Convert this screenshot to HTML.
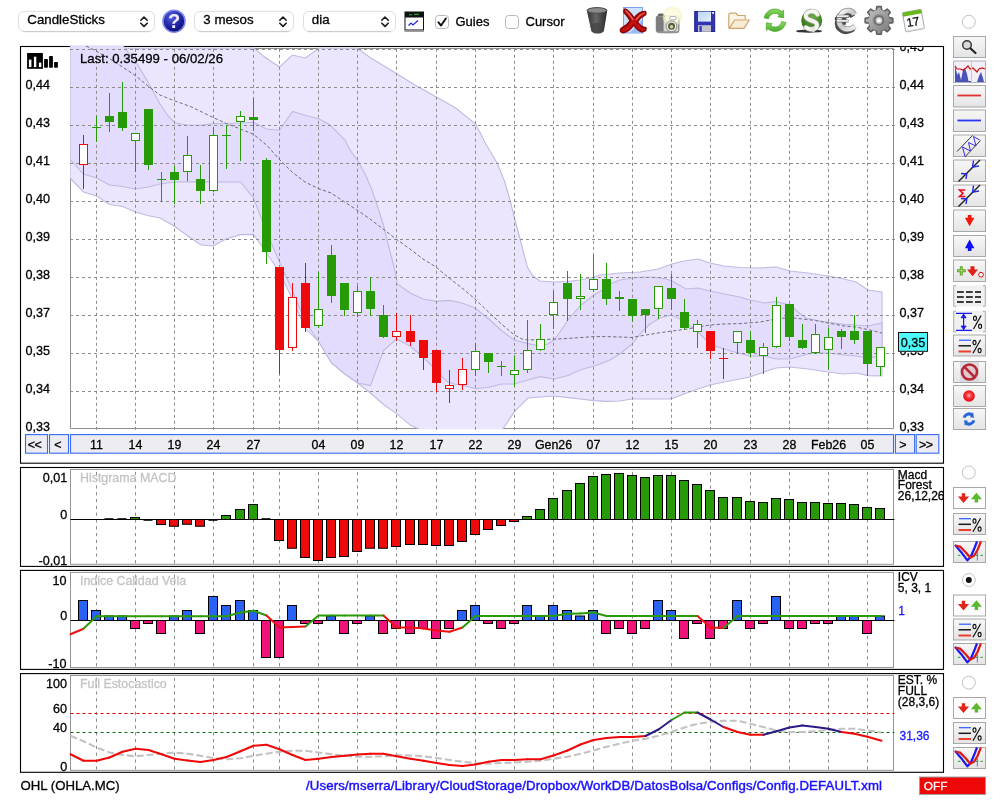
<!DOCTYPE html>
<html><head><meta charset="utf-8"><title>OHL chart</title>
<style>
html,body{margin:0;padding:0;background:#fff}
body{width:1000px;height:800px;position:relative;overflow:hidden;font-family:"Liberation Sans",sans-serif;font-size:13px;color:#000}
</style></head><body>
<svg width="1000" height="800" viewBox="0 0 1000 800" style="position:absolute;left:0;top:0">
<defs><clipPath id="cp"><rect x="70" y="45.5" width="824" height="383.8"/></clipPath><linearGradient id="bg" x1="0" y1="0" x2="0" y2="1"><stop offset="0" stop-color="#f7f7f7"/><stop offset="1" stop-color="#e4e4e4"/></linearGradient><radialGradient id="hg" cx="0.4" cy="0.3" r="0.8"><stop offset="0" stop-color="#5560e0"/><stop offset="0.6" stop-color="#1a1f9a"/><stop offset="1" stop-color="#0a0c60"/></radialGradient></defs>
<rect x="20.5" y="46.5" width="923" height="416.7" fill="#fff" stroke="#000" stroke-width="1.1"/>
<rect x="20.5" y="467.5" width="923" height="98.9" fill="#fff" stroke="#000" stroke-width="1.1"/>
<rect x="20.5" y="570.4" width="923" height="99" fill="#fff" stroke="#000" stroke-width="1.1"/>
<rect x="20.5" y="673.6" width="923" height="98.7" fill="#fff" stroke="#000" stroke-width="1.1"/>
<path d="M70.5 48.5V428.5H893.5V48.5Z" stroke="#8e8e8e" stroke-width="1" fill="none"/>
<g clip-path="url(#cp)">
<polygon points="70,48.2 253.75,48.2 266,58 279.5,67 292.5,55 305.5,58 318.75,48.2 357.5,48.2 370,57.5 382.5,65 396.75,73.75 415,85 436.25,97 455,107.5 475.75,124 485,142.5 497.5,163.75 505,182.5 510,200 515,220 520,238.75 527.5,267.5 533,276 540,281 554,282 567.5,281.5 580,280 592.5,277.5 600,275 620,273 640,272 658,269 672,264 684,261 698,259 710,263 724,266 740,267.5 760,268 776,267 790,271 808,273 828,276 844,279 856,282 868,290 882,292 882,376 868,375.6 856,373 844,374 828,372 808,369 790,367 776,368 764,372 750,377 740,379 724,382 710,385 698,389 684,394 671,399 650,399 632,399 620,401 606,401.4 594,400.6 580,399 568,397.6 554,396 540,397 528,398 514.5,411.6 501.5,431 495,440 436,440 423.5,431 410.5,425.3 396.5,413.6 383.5,404.5 370.5,393 357.5,383 344.5,373.75 331.5,363 318.5,341.25 305.5,328.8 292.5,299.5 279.5,272 266.5,253 253.5,234.4 240.5,234.6 226,239 213,246 201,245 188,236 174,226 160,218 148.5,215.8 135.5,212 122.5,206.5 109.5,204.5 96.5,196 83.5,192 70.5,178.5 70,178" fill="#ebe6fd" stroke="#bfbae2" stroke-width="1.1"/>
<polygon points="70,30 118,30 124,47 136,62 148,82 160,104 168,116 175,123 187.5,125 200.5,125.4 213.5,123.6 226.5,123.8 240.5,123 253.5,122.2 266.5,129 279.5,130.2 292.5,111.4 305.5,115.5 318.75,118.75 330,125 345,140 350,150 358,161 366,176 372,190 378,208 384,227 388,244 392,259 396,275 397,283.6 410,293 423,299 436,301.4 449,300.4 462,303 475,308 490,320 502,331 514.4,340 528,343.6 540,346 548,344 554,340 560,332 568,320 580,306 594,295 606,288 610,284 620,280 633,278 644,277 658,277.6 666,279 672,281 686,289 698,288 710,291 724,294 740,297 750,300 764,303 776,301.6 790,305 798,312 806,318 820,321 828,322.4 844,324.4 856,325 868,326 882,323 882,356 868,358 856,356 844,355 828,353 820,353 808,354 790,359 776,359 764,356 750,356 738,353 724,349 712,345 704,338 696,330 688,325 680,319 671,315 660,318 650,324 640,334 632,344 620,354 610,360 600,364 594,366 580,370 568,375.6 554,379 540,376.6 528,380 514.4,384 502,384 490,387 476,388.8 462,385 454,384 446,381 436,370 422,356 410,346 396.5,339 383.5,350.5 370.5,385.6 357.5,383 344.5,373.75 331.5,363 318.5,341.25 305.5,322 292.5,291 279.5,262 266.5,232 253.5,198 240.5,182 226,182 200,181.6 175,182 160,184 148.5,187 135.5,189 122.5,186.5 109.5,185 96.5,178 83.5,174 70.5,160 70,159.5" fill="#e4dcfc" stroke="#bfbae2" stroke-width="1.1"/>
</g>
<path d="M96.5 48.8V430 M135.5 48.8V430 M174.5 48.8V430 M213.5 48.8V430 M253.5 48.8V430 M279.5 48.8V430 M318.5 48.8V430 M357.5 48.8V430 M396.5 48.8V430 M436.5 48.8V430 M475.5 48.8V430 M514.5 48.8V430 M553.5 48.8V430 M593.5 48.8V430 M632.5 48.8V430 M671.5 48.8V430 M710.5 48.8V430 M750.5 48.8V430 M789.5 48.8V430 M828.5 48.8V430 M867.5 48.8V430 M70 49.5H895 M70 87.5H895 M70 125.5H895 M70 163.5H895 M70 201.5H895 M70 239.5H895 M70 277.5H895 M70 315.5H895 M70 353.5H895 M70 391.5H895" stroke="#8c8c8c" stroke-width="1" stroke-dasharray="3 3" fill="none"/>
<polyline points="86,46 96,51 110,59 124,68 136,76 148,86 160,95 175,101 191.2,106.8 213.4,117.6 226.6,123.6 240.4,129 253.6,134.4 266.8,145.2 279.5,159.6 292,172 305,182 318,188.4 331,193 344,201.6 357,210 370,219 383,229 396,239 410,249 423,259 436,267 449,278 462,288 475,299 490,313.5 502,324.5 514.4,335 522,339 528,340 540,339.6 554,339.2 568,338.4 580,337.6 594,336.6 606,336.6 620,337 632,337.5 640,336 658,333 672,331 688,329 697.5,327 710,325 724,324 740,323.6 760,322 776,319 790,317.5 802.5,319 815.5,320.5 828,323 844,326 856,327 868,329.6 882,333" fill="none" stroke="#62626a" stroke-width="0.9" stroke-dasharray="3.3 2.2" clip-path="url(#cp)"/>
<path d="M83.5 135V189" stroke="#ee0a0a" stroke-width="1"/>
<rect x="79.5" y="144.5" width="8" height="20" fill="#fff" stroke="#ee0a0a" stroke-width="1"/>
<path d="M96.5 116V142" stroke="#279a08" stroke-width="1"/>
<path d="M92.0 127.5H101.0" stroke="#279a08" stroke-width="1"/>
<path d="M109.5 93V132" stroke="#279a08" stroke-width="1"/>
<rect x="105.0" y="116" width="9" height="6" fill="#279a08"/>
<path d="M122.5 82V131" stroke="#279a08" stroke-width="1"/>
<rect x="118.0" y="112" width="9" height="16" fill="#279a08"/>
<path d="M135.5 133V172" stroke="#279a08" stroke-width="1"/>
<rect x="131.5" y="133.5" width="8" height="7" fill="#fff" stroke="#279a08" stroke-width="1"/>
<path d="M148.5 109V170" stroke="#279a08" stroke-width="1"/>
<rect x="144.0" y="109" width="9" height="56" fill="#279a08"/>
<path d="M161.5 172V202" stroke="#279a08" stroke-width="1"/>
<path d="M157.0 179.5H166.0" stroke="#279a08" stroke-width="1"/>
<path d="M174.5 166V204" stroke="#279a08" stroke-width="1"/>
<rect x="170.0" y="172" width="9" height="8" fill="#279a08"/>
<path d="M187.5 136V181" stroke="#279a08" stroke-width="1"/>
<rect x="183.5" y="155.5" width="8" height="16" fill="#fff" stroke="#279a08" stroke-width="1"/>
<path d="M200.5 165V204" stroke="#279a08" stroke-width="1"/>
<rect x="196.0" y="179" width="9" height="12" fill="#279a08"/>
<path d="M213.5 127V192" stroke="#279a08" stroke-width="1"/>
<rect x="209.5" y="135.5" width="8" height="55" fill="#fff" stroke="#279a08" stroke-width="1"/>
<path d="M226.5 125V169" stroke="#279a08" stroke-width="1"/>
<path d="M222.0 135.5H231.0" stroke="#279a08" stroke-width="1"/>
<path d="M240.5 111V161" stroke="#279a08" stroke-width="1"/>
<rect x="236.5" y="116.5" width="8" height="5" fill="#fff" stroke="#279a08" stroke-width="1"/>
<path d="M253.5 98V131" stroke="#279a08" stroke-width="1"/>
<rect x="249.0" y="117" width="9" height="3" fill="#279a08"/>
<path d="M266.5 158V264" stroke="#279a08" stroke-width="1"/>
<rect x="262.0" y="160" width="9" height="92" fill="#279a08"/>
<path d="M279.5 267V374" stroke="#ee0a0a" stroke-width="1"/>
<rect x="275.0" y="267" width="9" height="83" fill="#ee0a0a"/>
<path d="M292.5 283V351" stroke="#ee0a0a" stroke-width="1"/>
<rect x="288.5" y="297.5" width="8" height="50" fill="#fff" stroke="#ee0a0a" stroke-width="1"/>
<path d="M305.5 263V332" stroke="#ee0a0a" stroke-width="1"/>
<rect x="301.0" y="283" width="9" height="45" fill="#ee0a0a"/>
<path d="M318.5 272V328" stroke="#279a08" stroke-width="1"/>
<rect x="314.5" y="309.5" width="8" height="16" fill="#fff" stroke="#279a08" stroke-width="1"/>
<path d="M331.5 245V303" stroke="#279a08" stroke-width="1"/>
<rect x="327.0" y="255" width="9" height="41" fill="#279a08"/>
<path d="M344.5 283V316" stroke="#279a08" stroke-width="1"/>
<rect x="340.0" y="283" width="9" height="27" fill="#279a08"/>
<path d="M357.5 286V317" stroke="#279a08" stroke-width="1"/>
<rect x="353.5" y="291.5" width="8" height="21" fill="#fff" stroke="#279a08" stroke-width="1"/>
<path d="M370.5 277V316" stroke="#279a08" stroke-width="1"/>
<rect x="366.0" y="291" width="9" height="18" fill="#279a08"/>
<path d="M383.5 305V338" stroke="#279a08" stroke-width="1"/>
<rect x="379.0" y="315" width="9" height="22" fill="#279a08"/>
<path d="M396.5 313V341" stroke="#ee0a0a" stroke-width="1"/>
<rect x="392.5" y="331.5" width="8" height="5" fill="#fff" stroke="#ee0a0a" stroke-width="1"/>
<path d="M410.5 315V346" stroke="#ee0a0a" stroke-width="1"/>
<rect x="406.0" y="331" width="9" height="11" fill="#ee0a0a"/>
<path d="M423.5 340V370" stroke="#ee0a0a" stroke-width="1"/>
<rect x="419.0" y="340" width="9" height="18" fill="#ee0a0a"/>
<path d="M436.5 350V392" stroke="#ee0a0a" stroke-width="1"/>
<rect x="432.0" y="350" width="9" height="33" fill="#ee0a0a"/>
<path d="M449.5 370V403" stroke="#ee0a0a" stroke-width="1"/>
<rect x="445.5" y="385.5" width="8" height="3" fill="#fff" stroke="#ee0a0a" stroke-width="1"/>
<path d="M462.5 358V390" stroke="#ee0a0a" stroke-width="1"/>
<rect x="458.5" y="369.5" width="8" height="15" fill="#fff" stroke="#ee0a0a" stroke-width="1"/>
<path d="M475.5 343V376" stroke="#279a08" stroke-width="1"/>
<rect x="471.5" y="351.5" width="8" height="18" fill="#fff" stroke="#279a08" stroke-width="1"/>
<path d="M488.5 353V373" stroke="#279a08" stroke-width="1"/>
<rect x="484.0" y="353" width="9" height="9" fill="#279a08"/>
<path d="M501.5 361V376" stroke="#279a08" stroke-width="1"/>
<path d="M497.0 366.5H506.0" stroke="#279a08" stroke-width="1"/>
<path d="M514.5 356V387" stroke="#279a08" stroke-width="1"/>
<rect x="510.5" y="370.5" width="8" height="4" fill="#fff" stroke="#279a08" stroke-width="1"/>
<path d="M527.5 320V373" stroke="#279a08" stroke-width="1"/>
<rect x="523.5" y="350.5" width="8" height="19" fill="#fff" stroke="#279a08" stroke-width="1"/>
<path d="M540.5 324V351" stroke="#279a08" stroke-width="1"/>
<rect x="536.5" y="339.5" width="8" height="10" fill="#fff" stroke="#279a08" stroke-width="1"/>
<path d="M553.5 291V329" stroke="#279a08" stroke-width="1"/>
<rect x="549.5" y="302.5" width="8" height="12" fill="#fff" stroke="#279a08" stroke-width="1"/>
<path d="M567.5 271V321" stroke="#279a08" stroke-width="1"/>
<rect x="563.0" y="283" width="9" height="16" fill="#279a08"/>
<path d="M580.5 274V310" stroke="#279a08" stroke-width="1"/>
<rect x="576.5" y="296.5" width="8" height="2" fill="#fff" stroke="#279a08" stroke-width="1"/>
<path d="M593.5 255V292" stroke="#279a08" stroke-width="1"/>
<rect x="589.5" y="279.5" width="8" height="10" fill="#fff" stroke="#279a08" stroke-width="1"/>
<path d="M606.5 263V305" stroke="#279a08" stroke-width="1"/>
<rect x="602.0" y="279" width="9" height="20" fill="#279a08"/>
<path d="M619.5 291V311" stroke="#279a08" stroke-width="1"/>
<rect x="615.0" y="297" width="9" height="2" fill="#279a08"/>
<path d="M632.5 299V322" stroke="#279a08" stroke-width="1"/>
<rect x="628.0" y="299" width="9" height="17" fill="#279a08"/>
<path d="M645.5 309V333" stroke="#279a08" stroke-width="1"/>
<rect x="641.0" y="309" width="9" height="6" fill="#279a08"/>
<path d="M658.5 286V319" stroke="#279a08" stroke-width="1"/>
<rect x="654.5" y="286.5" width="8" height="22" fill="#fff" stroke="#279a08" stroke-width="1"/>
<path d="M671.5 274V310" stroke="#279a08" stroke-width="1"/>
<rect x="667.0" y="288" width="9" height="11" fill="#279a08"/>
<path d="M684.5 299V330" stroke="#279a08" stroke-width="1"/>
<rect x="680.0" y="312" width="9" height="16" fill="#279a08"/>
<path d="M697.5 320V348" stroke="#279a08" stroke-width="1"/>
<rect x="693.5" y="324.5" width="8" height="7" fill="#fff" stroke="#279a08" stroke-width="1"/>
<path d="M710.5 331V359" stroke="#ee0a0a" stroke-width="1"/>
<rect x="706.0" y="331" width="9" height="20" fill="#ee0a0a"/>
<path d="M723.5 348V379" stroke="#ee0a0a" stroke-width="1"/>
<path d="M719.0 358.5H728.0" stroke="#ee0a0a" stroke-width="1"/>
<path d="M737.5 331V354" stroke="#279a08" stroke-width="1"/>
<rect x="733.5" y="331.5" width="8" height="11" fill="#fff" stroke="#279a08" stroke-width="1"/>
<path d="M750.5 331V357" stroke="#279a08" stroke-width="1"/>
<rect x="746.0" y="340" width="9" height="13" fill="#279a08"/>
<path d="M763.5 343V374" stroke="#279a08" stroke-width="1"/>
<rect x="759.5" y="347.5" width="8" height="8" fill="#fff" stroke="#279a08" stroke-width="1"/>
<path d="M776.5 297V348" stroke="#279a08" stroke-width="1"/>
<rect x="772.5" y="305.5" width="8" height="41" fill="#fff" stroke="#279a08" stroke-width="1"/>
<path d="M789.5 304V341" stroke="#279a08" stroke-width="1"/>
<rect x="785.0" y="304" width="9" height="33" fill="#279a08"/>
<path d="M802.5 324V349" stroke="#279a08" stroke-width="1"/>
<rect x="798.0" y="340" width="9" height="8" fill="#279a08"/>
<path d="M815.5 324V354" stroke="#279a08" stroke-width="1"/>
<rect x="811.5" y="334.5" width="8" height="18" fill="#fff" stroke="#279a08" stroke-width="1"/>
<path d="M828.5 328V370" stroke="#279a08" stroke-width="1"/>
<rect x="824.5" y="337.5" width="8" height="12" fill="#fff" stroke="#279a08" stroke-width="1"/>
<path d="M841.5 329V349" stroke="#279a08" stroke-width="1"/>
<rect x="837.0" y="331" width="9" height="6" fill="#279a08"/>
<path d="M854.5 315V344" stroke="#279a08" stroke-width="1"/>
<rect x="850.0" y="331" width="9" height="9" fill="#279a08"/>
<path d="M867.5 331V376" stroke="#279a08" stroke-width="1"/>
<rect x="863.0" y="331" width="9" height="33" fill="#279a08"/>
<path d="M880.5 347V376" stroke="#279a08" stroke-width="1"/>
<rect x="876.5" y="347.5" width="8" height="19" fill="#fff" stroke="#279a08" stroke-width="1"/>
<rect x="898.5" y="332.5" width="29" height="18.8" fill="#4cfcfc" stroke="#1a0a0a" stroke-width="1"/>
<rect x="25.5" y="434.6" width="22" height="18.6" fill="#ececf2" stroke="#3a6af4" stroke-width="1.1"/>
<rect x="49.5" y="434.6" width="19" height="18.6" fill="#ececf2" stroke="#3a6af4" stroke-width="1.1"/>
<rect x="70.5" y="434.6" width="823" height="18.6" fill="#ececf2" stroke="#3a6af4" stroke-width="1.1"/>
<rect x="895.4" y="434.6" width="19.2" height="18.6" fill="#ececf2" stroke="#3a6af4" stroke-width="1.1"/>
<rect x="916.2" y="434.6" width="22.6" height="18.6" fill="#ececf2" stroke="#3a6af4" stroke-width="1.1"/>
<path d="M96.5 471.8V564.3 M135.5 471.8V564.3 M174.5 471.8V564.3 M213.5 471.8V564.3 M253.5 471.8V564.3 M279.5 471.8V564.3 M318.5 471.8V564.3 M357.5 471.8V564.3 M396.5 471.8V564.3 M436.5 471.8V564.3 M475.5 471.8V564.3 M514.5 471.8V564.3 M553.5 471.8V564.3 M593.5 471.8V564.3 M632.5 471.8V564.3 M671.5 471.8V564.3 M710.5 471.8V564.3 M750.5 471.8V564.3 M789.5 471.8V564.3 M828.5 471.8V564.3 M867.5 471.8V564.3" stroke="#8c8c8c" stroke-width="1" stroke-dasharray="3.2 3.6" fill="none"/>
<rect x="70.5" y="469.5" width="823" height="94.8" fill="none" stroke="#959595" stroke-width="1"/>
<path d="M96.5 574.6999999999999V667.5 M135.5 574.6999999999999V667.5 M174.5 574.6999999999999V667.5 M213.5 574.6999999999999V667.5 M253.5 574.6999999999999V667.5 M279.5 574.6999999999999V667.5 M318.5 574.6999999999999V667.5 M357.5 574.6999999999999V667.5 M396.5 574.6999999999999V667.5 M436.5 574.6999999999999V667.5 M475.5 574.6999999999999V667.5 M514.5 574.6999999999999V667.5 M553.5 574.6999999999999V667.5 M593.5 574.6999999999999V667.5 M632.5 574.6999999999999V667.5 M671.5 574.6999999999999V667.5 M710.5 574.6999999999999V667.5 M750.5 574.6999999999999V667.5 M789.5 574.6999999999999V667.5 M828.5 574.6999999999999V667.5 M867.5 574.6999999999999V667.5" stroke="#8c8c8c" stroke-width="1" stroke-dasharray="3.2 3.6" fill="none"/>
<rect x="70.5" y="572.4" width="823" height="95.1" fill="none" stroke="#959595" stroke-width="1"/>
<path d="M96.5 677.8V770.3 M135.5 677.8V770.3 M174.5 677.8V770.3 M213.5 677.8V770.3 M253.5 677.8V770.3 M279.5 677.8V770.3 M318.5 677.8V770.3 M357.5 677.8V770.3 M396.5 677.8V770.3 M436.5 677.8V770.3 M475.5 677.8V770.3 M514.5 677.8V770.3 M553.5 677.8V770.3 M593.5 677.8V770.3 M632.5 677.8V770.3 M671.5 677.8V770.3 M710.5 677.8V770.3 M750.5 677.8V770.3 M789.5 677.8V770.3 M828.5 677.8V770.3 M867.5 677.8V770.3" stroke="#8c8c8c" stroke-width="1" stroke-dasharray="3.2 3.6" fill="none"/>
<rect x="70.5" y="675.5" width="823" height="94.8" fill="none" stroke="#959595" stroke-width="1"/>
<path d="M70.5 519.5H894.5" stroke="#000" stroke-width="1"/>
<path d="M104.5 519.0H113.5" stroke="#000" stroke-width="1.6"/>
<path d="M117.5 519.0H126.5" stroke="#000" stroke-width="1.6"/>
<rect x="130.5" y="517.5" width="9" height="2" fill="#279a08" stroke="#000" stroke-width="1"/>
<path d="M143.5 520.0H152.5" stroke="#000" stroke-width="1.6"/>
<rect x="156.5" y="519.5" width="9" height="5" fill="#ee0a0a" stroke="#000" stroke-width="1"/>
<rect x="169.5" y="519.5" width="9" height="6.75" fill="#ee0a0a" stroke="#000" stroke-width="1"/>
<rect x="182.5" y="519.5" width="9" height="4.75" fill="#ee0a0a" stroke="#000" stroke-width="1"/>
<rect x="195.5" y="519.5" width="9" height="6.75" fill="#ee0a0a" stroke="#000" stroke-width="1"/>
<path d="M208.5 520.0H217.5" stroke="#000" stroke-width="1.6"/>
<rect x="221.5" y="515.5" width="9" height="4" fill="#279a08" stroke="#000" stroke-width="1"/>
<rect x="235.5" y="509.5" width="9" height="10" fill="#279a08" stroke="#000" stroke-width="1"/>
<rect x="248.5" y="504.5" width="9" height="15" fill="#279a08" stroke="#000" stroke-width="1"/>
<path d="M261.5 519.0H270.5" stroke="#000" stroke-width="1.6"/>
<rect x="274.5" y="519.5" width="9" height="21" fill="#ee0a0a" stroke="#000" stroke-width="1"/>
<rect x="287.5" y="519.5" width="9" height="28.75" fill="#ee0a0a" stroke="#000" stroke-width="1"/>
<rect x="300.5" y="519.5" width="9" height="38" fill="#ee0a0a" stroke="#000" stroke-width="1"/>
<rect x="313.5" y="519.5" width="9" height="41" fill="#ee0a0a" stroke="#000" stroke-width="1"/>
<rect x="326.5" y="519.5" width="9" height="38" fill="#ee0a0a" stroke="#000" stroke-width="1"/>
<rect x="339.5" y="519.5" width="9" height="37" fill="#ee0a0a" stroke="#000" stroke-width="1"/>
<rect x="352.5" y="519.5" width="9" height="32" fill="#ee0a0a" stroke="#000" stroke-width="1"/>
<rect x="365.5" y="519.5" width="9" height="28.75" fill="#ee0a0a" stroke="#000" stroke-width="1"/>
<rect x="378.5" y="519.5" width="9" height="28.75" fill="#ee0a0a" stroke="#000" stroke-width="1"/>
<rect x="391.5" y="519.5" width="9" height="27" fill="#ee0a0a" stroke="#000" stroke-width="1"/>
<rect x="405.5" y="519.5" width="9" height="25" fill="#ee0a0a" stroke="#000" stroke-width="1"/>
<rect x="418.5" y="519.5" width="9" height="25" fill="#ee0a0a" stroke="#000" stroke-width="1"/>
<rect x="431.5" y="519.5" width="9" height="26" fill="#ee0a0a" stroke="#000" stroke-width="1"/>
<rect x="444.5" y="519.5" width="9" height="26" fill="#ee0a0a" stroke="#000" stroke-width="1"/>
<rect x="457.5" y="519.5" width="9" height="22" fill="#ee0a0a" stroke="#000" stroke-width="1"/>
<rect x="470.5" y="519.5" width="9" height="15" fill="#ee0a0a" stroke="#000" stroke-width="1"/>
<rect x="483.5" y="519.5" width="9" height="10" fill="#ee0a0a" stroke="#000" stroke-width="1"/>
<rect x="496.5" y="519.5" width="9" height="6" fill="#ee0a0a" stroke="#000" stroke-width="1"/>
<rect x="509.5" y="519.5" width="9" height="2" fill="#ee0a0a" stroke="#000" stroke-width="1"/>
<rect x="522.5" y="516.5" width="9" height="3" fill="#279a08" stroke="#000" stroke-width="1"/>
<rect x="535.5" y="509.5" width="9" height="10" fill="#279a08" stroke="#000" stroke-width="1"/>
<rect x="548.5" y="498.5" width="9" height="21" fill="#279a08" stroke="#000" stroke-width="1"/>
<rect x="562.5" y="490.5" width="9" height="29" fill="#279a08" stroke="#000" stroke-width="1"/>
<rect x="575.5" y="483.5" width="9" height="36" fill="#279a08" stroke="#000" stroke-width="1"/>
<rect x="588.5" y="476.5" width="9" height="43" fill="#279a08" stroke="#000" stroke-width="1"/>
<rect x="601.5" y="474.5" width="9" height="45" fill="#279a08" stroke="#000" stroke-width="1"/>
<rect x="614.5" y="473.5" width="9" height="46" fill="#279a08" stroke="#000" stroke-width="1"/>
<rect x="627.5" y="475.5" width="9" height="44" fill="#279a08" stroke="#000" stroke-width="1"/>
<rect x="640.5" y="477.5" width="9" height="42" fill="#279a08" stroke="#000" stroke-width="1"/>
<rect x="653.5" y="475.5" width="9" height="44" fill="#279a08" stroke="#000" stroke-width="1"/>
<rect x="666.5" y="475.5" width="9" height="44" fill="#279a08" stroke="#000" stroke-width="1"/>
<rect x="679.5" y="480.5" width="9" height="39" fill="#279a08" stroke="#000" stroke-width="1"/>
<rect x="692.5" y="484.5" width="9" height="35" fill="#279a08" stroke="#000" stroke-width="1"/>
<rect x="705.5" y="490.5" width="9" height="29" fill="#279a08" stroke="#000" stroke-width="1"/>
<rect x="718.5" y="497.5" width="9" height="22" fill="#279a08" stroke="#000" stroke-width="1"/>
<rect x="732.5" y="497.5" width="9" height="22" fill="#279a08" stroke="#000" stroke-width="1"/>
<rect x="745.5" y="501.5" width="9" height="18" fill="#279a08" stroke="#000" stroke-width="1"/>
<rect x="758.5" y="502.5" width="9" height="17" fill="#279a08" stroke="#000" stroke-width="1"/>
<rect x="771.5" y="498.5" width="9" height="21" fill="#279a08" stroke="#000" stroke-width="1"/>
<rect x="784.5" y="499.5" width="9" height="20" fill="#279a08" stroke="#000" stroke-width="1"/>
<rect x="797.5" y="502.5" width="9" height="17" fill="#279a08" stroke="#000" stroke-width="1"/>
<rect x="810.5" y="502.5" width="9" height="17" fill="#279a08" stroke="#000" stroke-width="1"/>
<rect x="823.5" y="503.5" width="9" height="16" fill="#279a08" stroke="#000" stroke-width="1"/>
<rect x="836.5" y="503.5" width="9" height="16" fill="#279a08" stroke="#000" stroke-width="1"/>
<rect x="849.5" y="504.5" width="9" height="15" fill="#279a08" stroke="#000" stroke-width="1"/>
<rect x="862.5" y="507.5" width="9" height="12" fill="#279a08" stroke="#000" stroke-width="1"/>
<rect x="875.5" y="508.5" width="9" height="11" fill="#279a08" stroke="#000" stroke-width="1"/>
<path d="M70.5 620.5H894.5" stroke="#000" stroke-width="1"/>
<rect x="78.5" y="600.5" width="9" height="20" fill="#2962f5" stroke="#000" stroke-width="1"/>
<rect x="91.5" y="610.5" width="9" height="10" fill="#2962f5" stroke="#000" stroke-width="1"/>
<rect x="104.5" y="616" width="9" height="4.5" fill="#2962f5" stroke="#000" stroke-width="1"/>
<rect x="117.5" y="616" width="9" height="4.5" fill="#2962f5" stroke="#000" stroke-width="1"/>
<rect x="130.5" y="620.5" width="9" height="8" fill="#f0147a" stroke="#000" stroke-width="1"/>
<rect x="143.5" y="620.5" width="9" height="3" fill="#f0147a" stroke="#000" stroke-width="1"/>
<rect x="156.5" y="620.5" width="9" height="13" fill="#f0147a" stroke="#000" stroke-width="1"/>
<rect x="169.5" y="616" width="9" height="4.5" fill="#2962f5" stroke="#000" stroke-width="1"/>
<rect x="182.5" y="610.5" width="9" height="10" fill="#2962f5" stroke="#000" stroke-width="1"/>
<rect x="195.5" y="620.5" width="9" height="13" fill="#f0147a" stroke="#000" stroke-width="1"/>
<rect x="208.5" y="596.5" width="9" height="24" fill="#2962f5" stroke="#000" stroke-width="1"/>
<rect x="221.5" y="605.5" width="9" height="15" fill="#2962f5" stroke="#000" stroke-width="1"/>
<rect x="235.5" y="600.5" width="9" height="20" fill="#2962f5" stroke="#000" stroke-width="1"/>
<rect x="248.5" y="610.5" width="9" height="10" fill="#2962f5" stroke="#000" stroke-width="1"/>
<rect x="261.5" y="620.5" width="9" height="37" fill="#f0147a" stroke="#000" stroke-width="1"/>
<rect x="274.5" y="620.5" width="9" height="37" fill="#f0147a" stroke="#000" stroke-width="1"/>
<rect x="287.5" y="605.5" width="9" height="15" fill="#2962f5" stroke="#000" stroke-width="1"/>
<rect x="300.5" y="620.5" width="9" height="3" fill="#f0147a" stroke="#000" stroke-width="1"/>
<rect x="313.5" y="620.5" width="9" height="3" fill="#f0147a" stroke="#000" stroke-width="1"/>
<rect x="326.5" y="616" width="9" height="4.5" fill="#2962f5" stroke="#000" stroke-width="1"/>
<rect x="339.5" y="620.5" width="9" height="13" fill="#f0147a" stroke="#000" stroke-width="1"/>
<rect x="352.5" y="620.5" width="9" height="3" fill="#f0147a" stroke="#000" stroke-width="1"/>
<rect x="365.5" y="616" width="9" height="4.5" fill="#2962f5" stroke="#000" stroke-width="1"/>
<rect x="378.5" y="620.5" width="9" height="13" fill="#f0147a" stroke="#000" stroke-width="1"/>
<rect x="391.5" y="620.5" width="9" height="8" fill="#f0147a" stroke="#000" stroke-width="1"/>
<rect x="405.5" y="620.5" width="9" height="13" fill="#f0147a" stroke="#000" stroke-width="1"/>
<rect x="418.5" y="620.5" width="9" height="8" fill="#f0147a" stroke="#000" stroke-width="1"/>
<rect x="431.5" y="620.5" width="9" height="18" fill="#f0147a" stroke="#000" stroke-width="1"/>
<rect x="444.5" y="620.5" width="9" height="8" fill="#f0147a" stroke="#000" stroke-width="1"/>
<rect x="457.5" y="610.5" width="9" height="10" fill="#2962f5" stroke="#000" stroke-width="1"/>
<rect x="470.5" y="605.5" width="9" height="15" fill="#2962f5" stroke="#000" stroke-width="1"/>
<rect x="483.5" y="620.5" width="9" height="3" fill="#f0147a" stroke="#000" stroke-width="1"/>
<rect x="496.5" y="620.5" width="9" height="8" fill="#f0147a" stroke="#000" stroke-width="1"/>
<rect x="509.5" y="620.5" width="9" height="3" fill="#f0147a" stroke="#000" stroke-width="1"/>
<rect x="522.5" y="605.5" width="9" height="15" fill="#2962f5" stroke="#000" stroke-width="1"/>
<rect x="535.5" y="616" width="9" height="4.5" fill="#2962f5" stroke="#000" stroke-width="1"/>
<rect x="548.5" y="605.5" width="9" height="15" fill="#2962f5" stroke="#000" stroke-width="1"/>
<rect x="562.5" y="610.5" width="9" height="10" fill="#2962f5" stroke="#000" stroke-width="1"/>
<rect x="575.5" y="616" width="9" height="4.5" fill="#2962f5" stroke="#000" stroke-width="1"/>
<rect x="588.5" y="610.5" width="9" height="10" fill="#2962f5" stroke="#000" stroke-width="1"/>
<rect x="601.5" y="620.5" width="9" height="13" fill="#f0147a" stroke="#000" stroke-width="1"/>
<rect x="614.5" y="620.5" width="9" height="8" fill="#f0147a" stroke="#000" stroke-width="1"/>
<rect x="627.5" y="620.5" width="9" height="13" fill="#f0147a" stroke="#000" stroke-width="1"/>
<rect x="640.5" y="620.5" width="9" height="8" fill="#f0147a" stroke="#000" stroke-width="1"/>
<rect x="653.5" y="600.5" width="9" height="20" fill="#2962f5" stroke="#000" stroke-width="1"/>
<rect x="666.5" y="610.5" width="9" height="10" fill="#2962f5" stroke="#000" stroke-width="1"/>
<rect x="679.5" y="620.5" width="9" height="18" fill="#f0147a" stroke="#000" stroke-width="1"/>
<rect x="692.5" y="620.5" width="9" height="3" fill="#f0147a" stroke="#000" stroke-width="1"/>
<rect x="705.5" y="620.5" width="9" height="18" fill="#f0147a" stroke="#000" stroke-width="1"/>
<rect x="718.5" y="620.5" width="9" height="8" fill="#f0147a" stroke="#000" stroke-width="1"/>
<rect x="732.5" y="600.5" width="9" height="20" fill="#2962f5" stroke="#000" stroke-width="1"/>
<rect x="745.5" y="620.5" width="9" height="8" fill="#f0147a" stroke="#000" stroke-width="1"/>
<rect x="758.5" y="620.5" width="9" height="3" fill="#f0147a" stroke="#000" stroke-width="1"/>
<rect x="771.5" y="596.5" width="9" height="24" fill="#2962f5" stroke="#000" stroke-width="1"/>
<rect x="784.5" y="620.5" width="9" height="8" fill="#f0147a" stroke="#000" stroke-width="1"/>
<rect x="797.5" y="620.5" width="9" height="8" fill="#f0147a" stroke="#000" stroke-width="1"/>
<rect x="810.5" y="620.5" width="9" height="3" fill="#f0147a" stroke="#000" stroke-width="1"/>
<rect x="823.5" y="620.5" width="9" height="3" fill="#f0147a" stroke="#000" stroke-width="1"/>
<rect x="836.5" y="616" width="9" height="4.5" fill="#2962f5" stroke="#000" stroke-width="1"/>
<rect x="849.5" y="616" width="9" height="4.5" fill="#2962f5" stroke="#000" stroke-width="1"/>
<rect x="862.5" y="620.5" width="9" height="13" fill="#f0147a" stroke="#000" stroke-width="1"/>
<rect x="875.5" y="616" width="9" height="4.5" fill="#2962f5" stroke="#000" stroke-width="1"/>
<path d="M70.5 634.25L83.5 628.75" stroke="#f01010" stroke-width="2" stroke-linecap="round" fill="none"/>
<path d="M83.5 628.75L96.5 616.25" stroke="#2a9a0a" stroke-width="2" stroke-linecap="round" fill="none"/>
<path d="M96.5 616.25L109.5 616.25" stroke="#2a9a0a" stroke-width="2" stroke-linecap="round" fill="none"/>
<path d="M109.5 616.25L122.5 616.25" stroke="#2a9a0a" stroke-width="2" stroke-linecap="round" fill="none"/>
<path d="M122.5 616.25L135.5 616.25" stroke="#2a9a0a" stroke-width="2" stroke-linecap="round" fill="none"/>
<path d="M135.5 616.25L148.5 616.25" stroke="#2a9a0a" stroke-width="2" stroke-linecap="round" fill="none"/>
<path d="M148.5 616.25L161.5 616.25" stroke="#2a9a0a" stroke-width="2" stroke-linecap="round" fill="none"/>
<path d="M161.5 616.25L174.5 616.25" stroke="#2a9a0a" stroke-width="2" stroke-linecap="round" fill="none"/>
<path d="M174.5 616.25L187.5 616.25" stroke="#2a9a0a" stroke-width="2" stroke-linecap="round" fill="none"/>
<path d="M187.5 616.25L200.5 616.25" stroke="#2a9a0a" stroke-width="2" stroke-linecap="round" fill="none"/>
<path d="M200.5 616.25L213.5 616.25" stroke="#2a9a0a" stroke-width="2" stroke-linecap="round" fill="none"/>
<path d="M213.5 616.25L226.5 616.25" stroke="#2a9a0a" stroke-width="2" stroke-linecap="round" fill="none"/>
<path d="M226.5 616.25L240.5 612.5" stroke="#2a9a0a" stroke-width="2" stroke-linecap="round" fill="none"/>
<path d="M240.5 612.5L253.5 610.75" stroke="#2a9a0a" stroke-width="2" stroke-linecap="round" fill="none"/>
<path d="M253.5 610.75L266.5 615.5" stroke="#2a9a0a" stroke-width="2" stroke-linecap="round" fill="none"/>
<path d="M266.5 615.5L279.5 627.5" stroke="#f01010" stroke-width="2" stroke-linecap="round" fill="none"/>
<path d="M279.5 627.5L292.5 627" stroke="#f01010" stroke-width="2" stroke-linecap="round" fill="none"/>
<path d="M292.5 627L305.5 626.5" stroke="#f01010" stroke-width="2" stroke-linecap="round" fill="none"/>
<path d="M305.5 626.5L318.5 615.5" stroke="#2a9a0a" stroke-width="2" stroke-linecap="round" fill="none"/>
<path d="M318.5 615.5L331.5 615.5" stroke="#2a9a0a" stroke-width="2" stroke-linecap="round" fill="none"/>
<path d="M331.5 615.5L344.5 615.5" stroke="#2a9a0a" stroke-width="2" stroke-linecap="round" fill="none"/>
<path d="M344.5 615.5L357.5 615.5" stroke="#2a9a0a" stroke-width="2" stroke-linecap="round" fill="none"/>
<path d="M357.5 615.5L370.5 615.5" stroke="#2a9a0a" stroke-width="2" stroke-linecap="round" fill="none"/>
<path d="M370.5 615.5L383.5 615.5" stroke="#2a9a0a" stroke-width="2" stroke-linecap="round" fill="none"/>
<path d="M383.5 615.5L396.5 627.5" stroke="#f01010" stroke-width="2" stroke-linecap="round" fill="none"/>
<path d="M396.5 627.5L410.5 627.5" stroke="#f01010" stroke-width="2" stroke-linecap="round" fill="none"/>
<path d="M410.5 627.5L423.5 628.5" stroke="#f01010" stroke-width="2" stroke-linecap="round" fill="none"/>
<path d="M423.5 628.5L436.5 630.5" stroke="#f01010" stroke-width="2" stroke-linecap="round" fill="none"/>
<path d="M436.5 630.5L449.5 631.75" stroke="#f01010" stroke-width="2" stroke-linecap="round" fill="none"/>
<path d="M449.5 631.75L462.5 627.5" stroke="#f01010" stroke-width="2" stroke-linecap="round" fill="none"/>
<path d="M462.5 627.5L475.5 616" stroke="#2a9a0a" stroke-width="2" stroke-linecap="round" fill="none"/>
<path d="M475.5 616L488.5 616" stroke="#2a9a0a" stroke-width="2" stroke-linecap="round" fill="none"/>
<path d="M488.5 616L501.5 616" stroke="#2a9a0a" stroke-width="2" stroke-linecap="round" fill="none"/>
<path d="M501.5 616L514.5 616" stroke="#2a9a0a" stroke-width="2" stroke-linecap="round" fill="none"/>
<path d="M514.5 616L527.5 616" stroke="#2a9a0a" stroke-width="2" stroke-linecap="round" fill="none"/>
<path d="M527.5 616L540.5 616" stroke="#2a9a0a" stroke-width="2" stroke-linecap="round" fill="none"/>
<path d="M540.5 616L553.5 616" stroke="#2a9a0a" stroke-width="2" stroke-linecap="round" fill="none"/>
<path d="M553.5 616L567.5 613.75" stroke="#2a9a0a" stroke-width="2" stroke-linecap="round" fill="none"/>
<path d="M567.5 613.75L580.5 613.5" stroke="#2a9a0a" stroke-width="2" stroke-linecap="round" fill="none"/>
<path d="M580.5 613.5L593.5 612.5" stroke="#2a9a0a" stroke-width="2" stroke-linecap="round" fill="none"/>
<path d="M593.5 612.5L606.5 616" stroke="#2a9a0a" stroke-width="2" stroke-linecap="round" fill="none"/>
<path d="M606.5 616L619.5 616" stroke="#2a9a0a" stroke-width="2" stroke-linecap="round" fill="none"/>
<path d="M619.5 616L632.5 616" stroke="#2a9a0a" stroke-width="2" stroke-linecap="round" fill="none"/>
<path d="M632.5 616L645.5 616" stroke="#2a9a0a" stroke-width="2" stroke-linecap="round" fill="none"/>
<path d="M645.5 616L658.5 616" stroke="#2a9a0a" stroke-width="2" stroke-linecap="round" fill="none"/>
<path d="M658.5 616L671.5 616" stroke="#2a9a0a" stroke-width="2" stroke-linecap="round" fill="none"/>
<path d="M671.5 616L684.5 616" stroke="#2a9a0a" stroke-width="2" stroke-linecap="round" fill="none"/>
<path d="M684.5 616L697.5 616" stroke="#2a9a0a" stroke-width="2" stroke-linecap="round" fill="none"/>
<path d="M697.5 616L710.5 627.5" stroke="#f01010" stroke-width="2" stroke-linecap="round" fill="none"/>
<path d="M710.5 627.5L723.5 628" stroke="#f01010" stroke-width="2" stroke-linecap="round" fill="none"/>
<path d="M723.5 628L737.5 616" stroke="#2a9a0a" stroke-width="2" stroke-linecap="round" fill="none"/>
<path d="M737.5 616L750.5 616" stroke="#2a9a0a" stroke-width="2" stroke-linecap="round" fill="none"/>
<path d="M750.5 616L763.5 616" stroke="#2a9a0a" stroke-width="2" stroke-linecap="round" fill="none"/>
<path d="M763.5 616L776.5 616" stroke="#2a9a0a" stroke-width="2" stroke-linecap="round" fill="none"/>
<path d="M776.5 616L789.5 616" stroke="#2a9a0a" stroke-width="2" stroke-linecap="round" fill="none"/>
<path d="M789.5 616L802.5 616" stroke="#2a9a0a" stroke-width="2" stroke-linecap="round" fill="none"/>
<path d="M802.5 616L815.5 616" stroke="#2a9a0a" stroke-width="2" stroke-linecap="round" fill="none"/>
<path d="M815.5 616L828.5 616" stroke="#2a9a0a" stroke-width="2" stroke-linecap="round" fill="none"/>
<path d="M828.5 616L841.5 616" stroke="#2a9a0a" stroke-width="2" stroke-linecap="round" fill="none"/>
<path d="M841.5 616L854.5 616" stroke="#2a9a0a" stroke-width="2" stroke-linecap="round" fill="none"/>
<path d="M854.5 616L867.5 616" stroke="#2a9a0a" stroke-width="2" stroke-linecap="round" fill="none"/>
<path d="M867.5 616L880.5 616" stroke="#2a9a0a" stroke-width="2" stroke-linecap="round" fill="none"/>
<path d="M70.5 713.5H894.5" stroke="#e00000" stroke-width="1" stroke-dasharray="3 3"/>
<path d="M70.5 732.5H894.5" stroke="#0a6a0a" stroke-width="1" stroke-dasharray="3 3"/>
<polyline points="70.5,735.75 83.5,741.25 96.5,747.5 109.5,752.5 122.5,755 135.5,756.25 148.5,755 161.5,753.75 174.5,752.5 187.5,753.75 200.5,755.75 213.5,758 226.5,759.25 240.5,758.25 253.5,755.75 266.5,753.75 279.5,751.75 292.5,750.75 305.5,750.75 318.5,752.5 331.5,754.25 344.5,755.75 357.5,756.75 370.5,756.75 383.5,756.25 396.5,755 410.5,755.5 423.5,756.25 436.5,758 449.5,760 462.5,761.75 475.5,763 488.5,763.75 501.5,763 514.5,762.5 527.5,761.75 540.5,760.75 553.5,758.75 567.5,756.75 580.5,753.75 593.5,750.5 606.5,746.75 619.5,743.75 632.5,740.75 645.5,738.75 658.5,735.75 671.5,732 684.5,727.5 697.5,723.75 710.5,722 723.5,720.75 737.5,720.75 750.5,723.75 763.5,727 776.5,730.5 789.5,732 802.5,732 815.5,731.25 828.5,730 841.5,728.75 854.5,728.75 867.5,730.5 881.5,732.5" fill="none" stroke="#c2c2c2" stroke-width="2.1" stroke-dasharray="7 3"/>
<path d="M70.5 754.25L83.5 760.75" stroke="#f00808" stroke-width="2" stroke-linecap="round" fill="none"/>
<path d="M83.5 760.75L96.5 760.75" stroke="#f00808" stroke-width="2" stroke-linecap="round" fill="none"/>
<path d="M96.5 760.75L109.5 757.5" stroke="#f00808" stroke-width="2" stroke-linecap="round" fill="none"/>
<path d="M109.5 757.5L122.5 751.75" stroke="#f00808" stroke-width="2" stroke-linecap="round" fill="none"/>
<path d="M122.5 751.75L135.5 748.75" stroke="#f00808" stroke-width="2" stroke-linecap="round" fill="none"/>
<path d="M135.5 748.75L148.5 750" stroke="#f00808" stroke-width="2" stroke-linecap="round" fill="none"/>
<path d="M148.5 750L161.5 754.25" stroke="#f00808" stroke-width="2" stroke-linecap="round" fill="none"/>
<path d="M161.5 754.25L174.5 758.75" stroke="#f00808" stroke-width="2" stroke-linecap="round" fill="none"/>
<path d="M174.5 758.75L187.5 760.5" stroke="#f00808" stroke-width="2" stroke-linecap="round" fill="none"/>
<path d="M187.5 760.5L200.5 762" stroke="#f00808" stroke-width="2" stroke-linecap="round" fill="none"/>
<path d="M200.5 762L213.5 760" stroke="#f00808" stroke-width="2" stroke-linecap="round" fill="none"/>
<path d="M213.5 760L226.5 757" stroke="#f00808" stroke-width="2" stroke-linecap="round" fill="none"/>
<path d="M226.5 757L240.5 751.25" stroke="#f00808" stroke-width="2" stroke-linecap="round" fill="none"/>
<path d="M240.5 751.25L253.5 745.75" stroke="#f00808" stroke-width="2" stroke-linecap="round" fill="none"/>
<path d="M253.5 745.75L266.5 744.75" stroke="#f00808" stroke-width="2" stroke-linecap="round" fill="none"/>
<path d="M266.5 744.75L279.5 749.25" stroke="#f00808" stroke-width="2" stroke-linecap="round" fill="none"/>
<path d="M279.5 749.25L292.5 755" stroke="#f00808" stroke-width="2" stroke-linecap="round" fill="none"/>
<path d="M292.5 755L305.5 760" stroke="#f00808" stroke-width="2" stroke-linecap="round" fill="none"/>
<path d="M305.5 760L318.5 758.75" stroke="#f00808" stroke-width="2" stroke-linecap="round" fill="none"/>
<path d="M318.5 758.75L331.5 757" stroke="#f00808" stroke-width="2" stroke-linecap="round" fill="none"/>
<path d="M331.5 757L344.5 755.75" stroke="#f00808" stroke-width="2" stroke-linecap="round" fill="none"/>
<path d="M344.5 755.75L357.5 754.5" stroke="#f00808" stroke-width="2" stroke-linecap="round" fill="none"/>
<path d="M357.5 754.5L370.5 753.75" stroke="#f00808" stroke-width="2" stroke-linecap="round" fill="none"/>
<path d="M370.5 753.75L383.5 753.75" stroke="#f00808" stroke-width="2" stroke-linecap="round" fill="none"/>
<path d="M383.5 753.75L396.5 756.25" stroke="#f00808" stroke-width="2" stroke-linecap="round" fill="none"/>
<path d="M396.5 756.25L410.5 758.75" stroke="#f00808" stroke-width="2" stroke-linecap="round" fill="none"/>
<path d="M410.5 758.75L423.5 760.75" stroke="#f00808" stroke-width="2" stroke-linecap="round" fill="none"/>
<path d="M423.5 760.75L436.5 763" stroke="#f00808" stroke-width="2" stroke-linecap="round" fill="none"/>
<path d="M436.5 763L449.5 765" stroke="#f00808" stroke-width="2" stroke-linecap="round" fill="none"/>
<path d="M449.5 765L462.5 766" stroke="#f00808" stroke-width="2" stroke-linecap="round" fill="none"/>
<path d="M462.5 766L475.5 764.5" stroke="#f00808" stroke-width="2" stroke-linecap="round" fill="none"/>
<path d="M475.5 764.5L488.5 761.75" stroke="#f00808" stroke-width="2" stroke-linecap="round" fill="none"/>
<path d="M488.5 761.75L501.5 760" stroke="#f00808" stroke-width="2" stroke-linecap="round" fill="none"/>
<path d="M501.5 760L514.5 760" stroke="#f00808" stroke-width="2" stroke-linecap="round" fill="none"/>
<path d="M514.5 760L527.5 759.25" stroke="#f00808" stroke-width="2" stroke-linecap="round" fill="none"/>
<path d="M527.5 759.25L540.5 759.25" stroke="#f00808" stroke-width="2" stroke-linecap="round" fill="none"/>
<path d="M540.5 759.25L553.5 755.5" stroke="#f00808" stroke-width="2" stroke-linecap="round" fill="none"/>
<path d="M553.5 755.5L567.5 750.5" stroke="#f00808" stroke-width="2" stroke-linecap="round" fill="none"/>
<path d="M567.5 750.5L580.5 744.5" stroke="#f00808" stroke-width="2" stroke-linecap="round" fill="none"/>
<path d="M580.5 744.5L593.5 740" stroke="#f00808" stroke-width="2" stroke-linecap="round" fill="none"/>
<path d="M593.5 740L606.5 738" stroke="#f00808" stroke-width="2" stroke-linecap="round" fill="none"/>
<path d="M606.5 738L619.5 737" stroke="#f00808" stroke-width="2" stroke-linecap="round" fill="none"/>
<path d="M619.5 737L632.5 737" stroke="#f00808" stroke-width="2" stroke-linecap="round" fill="none"/>
<path d="M632.5 737L645.5 736" stroke="#f00808" stroke-width="2" stroke-linecap="round" fill="none"/>
<path d="M645.5 736L658.5 729.5" stroke="#2c1a86" stroke-width="2" stroke-linecap="round" fill="none"/>
<path d="M658.5 729.5L671.5 720" stroke="#2c1a86" stroke-width="2" stroke-linecap="round" fill="none"/>
<path d="M671.5 720L684.5 712.5" stroke="#2a9a0a" stroke-width="2" stroke-linecap="round" fill="none"/>
<path d="M684.5 712.5L697.5 712.5" stroke="#2a9a0a" stroke-width="2" stroke-linecap="round" fill="none"/>
<path d="M697.5 712.5L710.5 719.5" stroke="#2c1a86" stroke-width="2" stroke-linecap="round" fill="none"/>
<path d="M710.5 719.5L723.5 727" stroke="#2c1a86" stroke-width="2" stroke-linecap="round" fill="none"/>
<path d="M723.5 727L737.5 732" stroke="#f00808" stroke-width="2" stroke-linecap="round" fill="none"/>
<path d="M737.5 732L750.5 734.75" stroke="#f00808" stroke-width="2" stroke-linecap="round" fill="none"/>
<path d="M750.5 734.75L763.5 734.75" stroke="#f00808" stroke-width="2" stroke-linecap="round" fill="none"/>
<path d="M763.5 734.75L776.5 731.25" stroke="#2c1a86" stroke-width="2" stroke-linecap="round" fill="none"/>
<path d="M776.5 731.25L789.5 727.5" stroke="#2c1a86" stroke-width="2" stroke-linecap="round" fill="none"/>
<path d="M789.5 727.5L802.5 725.5" stroke="#2c1a86" stroke-width="2" stroke-linecap="round" fill="none"/>
<path d="M802.5 725.5L815.5 727" stroke="#2c1a86" stroke-width="2" stroke-linecap="round" fill="none"/>
<path d="M815.5 727L828.5 728.75" stroke="#2c1a86" stroke-width="2" stroke-linecap="round" fill="none"/>
<path d="M828.5 728.75L841.5 732" stroke="#2c1a86" stroke-width="2" stroke-linecap="round" fill="none"/>
<path d="M841.5 732L854.5 733.75" stroke="#f00808" stroke-width="2" stroke-linecap="round" fill="none"/>
<path d="M854.5 733.75L867.5 736.75" stroke="#f00808" stroke-width="2" stroke-linecap="round" fill="none"/>
<path d="M867.5 736.75L881.5 740.75" stroke="#f00808" stroke-width="2" stroke-linecap="round" fill="none"/>
<circle cx="968.8" cy="21.8" r="6.5" fill="#fff" stroke="#c2c2c2" stroke-width="1"/>
<rect x="953.5" y="36.5" width="32.0" height="21.0" fill="url(#bg)" stroke="#a8a8a8" stroke-width="1"/>
<circle cx="967" cy="45" r="4.3" fill="#d8d8d8" stroke="#333" stroke-width="1.4"/><path d="M970.3 48.3L975.5 53" stroke="#222" stroke-width="2.2" stroke-linecap="round"/>
<rect x="953.5" y="61" width="32" height="21.5" fill="#f4eef6" stroke="#b0b0c0" stroke-width="1"/>
<path d="M955 82V64L956 70L957.5 75L959 72L961 80L963 70L965 68L967 74L968.5 81L971 81L972 82Z" fill="#4a54b6"/><path d="M977 82L979 76L981 72L983 78L984 82Z" fill="#4a54b6"/><path d="M955 66L957 69L960 69L963 70L966 68L968 66L970 69L973 68L975 70L977 72L979 69L982 68L985 69" stroke="#d01010" stroke-width="1.2" fill="none"/><path d="M971.5 61V82" stroke="#c8c8d8" stroke-width="1"/>
<rect x="953.5" y="85.5" width="32.0" height="21.5" fill="url(#bg)" stroke="#a8a8a8" stroke-width="1"/>
<path d="M957.5 95.5H981" stroke="#e03030" stroke-width="1.8"/>
<rect x="953.5" y="110" width="32.0" height="21.5" fill="url(#bg)" stroke="#a8a8a8" stroke-width="1"/>
<path d="M957.5 120.5H981" stroke="#2a3af0" stroke-width="1.8"/>
<rect x="953.5" y="135" width="32.0" height="21.5" fill="url(#bg)" stroke="#a8a8a8" stroke-width="1"/>
<path d="M957 151.5L972.5 135.5M965 156.8L980.5 140.5" stroke="#333" stroke-width="1"/><path d="M965 156.5L962.5 147L970.5 151L968.5 142.5L976 146L973.5 136.5L979.7 140" stroke="#3a30e8" stroke-width="1" fill="none"/>
<rect x="953.5" y="160" width="32.0" height="21.5" fill="url(#bg)" stroke="#a8a8a8" stroke-width="1"/>
<path d="M958.5 181.5L980 160" stroke="#222" stroke-width="1.5"/><path d="M973.5 160.5L972.5 167.2L979 166M961 173.5L966.8 174L966 179" stroke="#2828e0" stroke-width="1.4" fill="none"/>
<rect x="953.5" y="185" width="32.0" height="21.5" fill="url(#bg)" stroke="#a8a8a8" stroke-width="1"/>
<path d="M958.5 206.5L980 185" stroke="#222" stroke-width="1.5"/><path d="M973.5 185.5L972.5 192.2L979 191M961 198.5L966.8 199L966 204" stroke="#2828e0" stroke-width="1.4" fill="none"/><path d="M965.3 190H959.5L963 193.3L959.5 196.5H965.3" stroke="#e81020" stroke-width="1.6" fill="none"/>
<rect x="953.5" y="210" width="32.0" height="21.5" fill="url(#bg)" stroke="#a8a8a8" stroke-width="1"/>
<path d="M967.8 215H971.5V217.7H974.4L969.6 226.2L964.9 217.7H967.8Z" fill="#f01808"/>
<rect x="953.5" y="235.5" width="32.0" height="21.0" fill="url(#bg)" stroke="#a8a8a8" stroke-width="1"/>
<path d="M967.8 251H971.5V248.2H974.4L969.6 239.5L964.9 248.2H967.8Z" fill="#1010f8"/>
<rect x="953.5" y="260" width="32.0" height="21.5" fill="url(#bg)" stroke="#a8a8a8" stroke-width="1"/>
<path d="M957 270.8H965.8M961.3 266.2V275.5" stroke="#62a828" stroke-width="3"/><path d="M958 270.8H964.8M961.3 267.2V274.5" stroke="#a8d080" stroke-width="1"/><path d="M970.5 266.2H974.5V269.5H978L972.5 276.3L967 269.5H970.5Z" fill="#e02018"/><circle cx="981" cy="274.7" r="2.4" fill="#fff" stroke="#e01010" stroke-width="1"/>
<rect x="954" y="285.5" width="31" height="21" fill="#f0f0f0"/><path d="M956 285.7H953.7V306.3H956M983 285.7H985.3V306.3H983" stroke="#a8a8a8" stroke-width="1" fill="none"/>
<path d="M957 292H981M957 297H981M957 302H981" stroke="#3c3c3c" stroke-width="2" stroke-dasharray="6.8 2.2"/>
<rect x="954" y="311" width="31" height="21" fill="#f0f0f0"/><path d="M956 311.2H953.7V332H956M983 311.2H985.3V332H983" stroke="#a8a8a8" stroke-width="1" fill="none"/>
<path d="M956 313.4H972M956 330.3H972M963.6 314V330" stroke="#1818f0" stroke-width="1.2"/><path d="M961 317.8L963.6 314.2L966.2 317.8ZM961 326L963.6 329.6L966.2 326Z" fill="#1818f0" stroke="#1818f0" stroke-width="0.8"/>
<path d="M981.0999999999999 315.5L973.5 329.0" stroke="#111" stroke-width="1.2"/><ellipse cx="975.0" cy="318.3" rx="1.5" ry="2.2" fill="none" stroke="#111" stroke-width="1.1"/><ellipse cx="980.0999999999999" cy="326.3" rx="1.5" ry="2.2" fill="none" stroke="#111" stroke-width="1.1"/>
<rect x="953.5" y="335" width="32.0" height="21" fill="url(#bg)" stroke="#a8a8a8" stroke-width="1"/>
<path d="M959 340.2H971" stroke="#2a5af8" stroke-width="1.2"/><path d="M958.5 345.8H971" stroke="#1a1a1a" stroke-width="1.5"/><path d="M958.5 351.5H971" stroke="#e8402a" stroke-width="2"/>
<path d="M980.5999999999999 339.8L973.0 353.3" stroke="#111" stroke-width="1.2"/><ellipse cx="974.5" cy="342.6" rx="1.5" ry="2.2" fill="none" stroke="#111" stroke-width="1.1"/><ellipse cx="979.5999999999999" cy="350.6" rx="1.5" ry="2.2" fill="none" stroke="#111" stroke-width="1.1"/>
<rect x="953.5" y="361.5" width="32.0" height="21.0" fill="url(#bg)" stroke="#a8a8a8" stroke-width="1"/>
<rect x="960" y="362" width="19" height="20" fill="#dadae2"/><circle cx="969.5" cy="372" r="7.5" fill="#e0c8ce" stroke="#b82832" stroke-width="2.6"/><path d="M964.2 366.7L974.8 377.3" stroke="#b82832" stroke-width="2.6"/>
<rect x="953.5" y="385.5" width="32.0" height="21.0" fill="url(#bg)" stroke="#a8a8a8" stroke-width="1"/>
<defs><radialGradient id="rg" cx="0.5" cy="0.45" r="0.5"><stop offset="0" stop-color="#ffb0b0"/><stop offset="0.5" stop-color="#f43030"/><stop offset="1" stop-color="#e80c18"/></radialGradient></defs><circle cx="969" cy="396" r="5.8" fill="url(#rg)"/>
<rect x="953.5" y="408.5" width="32.0" height="21.0" fill="url(#bg)" stroke="#a8a8a8" stroke-width="1"/>
<circle cx="968.8" cy="472.5" r="6.5" fill="#fff" stroke="#c2c2c2" stroke-width="1"/>
<rect x="953.5" y="487.5" width="32" height="21" fill="#fdfdfd" stroke="#a8a8a8" stroke-width="1"/>
<path d="M961.8 493.3H965.2V496.6H969.1L963.5 503.1L957.9 496.6H961.8Z" fill="#e0281a"/><path d="M974.7 502.5H978.1V499.3H982L976.4 492.8L970.8 499.3H974.7Z" fill="#5cb82c"/>
<rect x="953.5" y="513.5" width="32.0" height="21.0" fill="url(#bg)" stroke="#a8a8a8" stroke-width="1"/>
<path d="M959 518.7H971" stroke="#2a5af8" stroke-width="1.2"/><path d="M958.5 524.3H971" stroke="#1a1a1a" stroke-width="1.5"/><path d="M958.5 530.0H971" stroke="#e8402a" stroke-width="2"/>
<path d="M980.5999999999999 518.3L973.0 531.8" stroke="#111" stroke-width="1.2"/><ellipse cx="974.5" cy="521.0999999999999" rx="1.5" ry="2.2" fill="none" stroke="#111" stroke-width="1.1"/><ellipse cx="979.5999999999999" cy="529.0999999999999" rx="1.5" ry="2.2" fill="none" stroke="#111" stroke-width="1.1"/>
<rect x="953.5" y="541.5" width="32.0" height="21.0" fill="url(#bg)" stroke="#a8a8a8" stroke-width="1"/>
<path d="M957.9 555.3H983" stroke="#2a9a2a" stroke-width="1" stroke-dasharray="2.5 2"/><path d="M977.3 552.3V560.5" stroke="#5050d0" stroke-width="0.8"/><path d="M955 544.9L961.2 552.2L967.4 560.3L970.8 556.7L974.2 548.8L977 541.5" stroke="#1a1af0" stroke-width="2.2" fill="none" stroke-linejoin="round"/><path d="M955 545.5L960.1 546.6L965.7 552.2L970.2 557.8L974.2 555.6L977.5 550.0L980.9 541.5" stroke="#e01818" stroke-width="2.2" fill="none" stroke-linejoin="round"/>
<circle cx="968.8" cy="580" r="6.5" fill="#fff" stroke="#c2c2c2" stroke-width="1"/>
<circle cx="968.8" cy="580" r="3" fill="#111"/>
<rect x="953.5" y="595" width="32" height="21" fill="#fdfdfd" stroke="#a8a8a8" stroke-width="1"/>
<path d="M961.8 600.8H965.2V604.1H969.1L963.5 610.6L957.9 604.1H961.8Z" fill="#e0281a"/><path d="M974.7 610H978.1V606.8H982L976.4 600.3L970.8 606.8H974.7Z" fill="#5cb82c"/>
<rect x="953.5" y="619" width="32.0" height="21" fill="url(#bg)" stroke="#a8a8a8" stroke-width="1"/>
<path d="M959 624.2H971" stroke="#2a5af8" stroke-width="1.2"/><path d="M958.5 629.8H971" stroke="#1a1a1a" stroke-width="1.5"/><path d="M958.5 635.5H971" stroke="#e8402a" stroke-width="2"/>
<path d="M980.5999999999999 623.8L973.0 637.3" stroke="#111" stroke-width="1.2"/><ellipse cx="974.5" cy="626.5999999999999" rx="1.5" ry="2.2" fill="none" stroke="#111" stroke-width="1.1"/><ellipse cx="979.5999999999999" cy="634.5999999999999" rx="1.5" ry="2.2" fill="none" stroke="#111" stroke-width="1.1"/>
<rect x="953.5" y="643.5" width="32.0" height="21.0" fill="url(#bg)" stroke="#a8a8a8" stroke-width="1"/>
<path d="M957.9 657.3H983" stroke="#2a9a2a" stroke-width="1" stroke-dasharray="2.5 2"/><path d="M977.3 654.3V662.5" stroke="#5050d0" stroke-width="0.8"/><path d="M955 646.9L961.2 654.2L967.4 662.3L970.8 658.7L974.2 650.8L977 643.5" stroke="#1a1af0" stroke-width="2.2" fill="none" stroke-linejoin="round"/><path d="M955 647.5L960.1 648.6L965.7 654.2L970.2 659.8L974.2 657.6L977.5 652.0L980.9 643.5" stroke="#e01818" stroke-width="2.2" fill="none" stroke-linejoin="round"/>
<circle cx="968.8" cy="682.7" r="6.5" fill="#fff" stroke="#c2c2c2" stroke-width="1"/>
<rect x="953.5" y="697.5" width="32" height="21" fill="#fdfdfd" stroke="#a8a8a8" stroke-width="1"/>
<path d="M961.8 703.3H965.2V706.6H969.1L963.5 713.1L957.9 706.6H961.8Z" fill="#e0281a"/><path d="M974.7 712.5H978.1V709.3H982L976.4 702.8L970.8 709.3H974.7Z" fill="#5cb82c"/>
<rect x="953.5" y="722.5" width="32.0" height="21.0" fill="url(#bg)" stroke="#a8a8a8" stroke-width="1"/>
<path d="M959 727.7H971" stroke="#2a5af8" stroke-width="1.2"/><path d="M958.5 733.3H971" stroke="#1a1a1a" stroke-width="1.5"/><path d="M958.5 739.0H971" stroke="#e8402a" stroke-width="2"/>
<path d="M980.5999999999999 727.3L973.0 740.8" stroke="#111" stroke-width="1.2"/><ellipse cx="974.5" cy="730.0999999999999" rx="1.5" ry="2.2" fill="none" stroke="#111" stroke-width="1.1"/><ellipse cx="979.5999999999999" cy="738.0999999999999" rx="1.5" ry="2.2" fill="none" stroke="#111" stroke-width="1.1"/>
<rect x="953.5" y="747.5" width="32.0" height="21.0" fill="url(#bg)" stroke="#a8a8a8" stroke-width="1"/>
<path d="M957.9 761.3H983" stroke="#2a9a2a" stroke-width="1" stroke-dasharray="2.5 2"/><path d="M977.3 758.3V766.5" stroke="#5050d0" stroke-width="0.8"/><path d="M955 750.9L961.2 758.2L967.4 766.3L970.8 762.7L974.2 754.8L977 747.5" stroke="#1a1af0" stroke-width="2.2" fill="none" stroke-linejoin="round"/><path d="M955 751.5L960.1 752.6L965.7 758.2L970.2 763.8L974.2 761.6L977.5 756.0L980.9 747.5" stroke="#e01818" stroke-width="2.2" fill="none" stroke-linejoin="round"/>
<rect x="919.5" y="777" width="66" height="17.5" fill="#ee0808" stroke="#a0a0a0" stroke-width="1"/>
<rect x="27.1" y="53" width="15.8" height="15.8" fill="#000"/><rect x="28.9" y="59.6" width="2.5" height="7.5" fill="#fff"/><rect x="33.9" y="56.7" width="2.4" height="10.4" fill="#fff"/><rect x="38.9" y="62.6" width="2.4" height="4.5" fill="#fff"/><rect x="44.1" y="59" width="3.8" height="8.8" rx="0.7" fill="#000"/><rect x="49.1" y="56" width="3.8" height="11.8" rx="0.7" fill="#000"/><rect x="54.1" y="61.9" width="3.8" height="5.9" rx="0.7" fill="#000"/>
<rect x="18.5" y="11.4" width="136.0" height="20" rx="5.5" fill="#fff" stroke="#dedede" stroke-width="1"/>
<path d="M23.0 31.7H150.0" stroke="#c8c8c8" stroke-width="1"/>
<path d="M140.8 20.2L144.0 17L147.2 20.2M140.8 23.2L144.0 26.4L147.2 23.2" stroke="#1a1a1a" stroke-width="1.6" fill="none" stroke-linecap="round" stroke-linejoin="round"/>
<rect x="194.5" y="11.4" width="99.0" height="20" rx="5.5" fill="#fff" stroke="#dedede" stroke-width="1"/>
<path d="M199.0 31.7H289.0" stroke="#c8c8c8" stroke-width="1"/>
<path d="M279.8 20.2L283.0 17L286.2 20.2M279.8 23.2L283.0 26.4L286.2 23.2" stroke="#1a1a1a" stroke-width="1.6" fill="none" stroke-linecap="round" stroke-linejoin="round"/>
<rect x="303.5" y="11.4" width="92.0" height="20" rx="5.5" fill="#fff" stroke="#dedede" stroke-width="1"/>
<path d="M308.0 31.7H391.0" stroke="#c8c8c8" stroke-width="1"/>
<path d="M381.8 20.2L385.0 17L388.2 20.2M381.8 23.2L385.0 26.4L388.2 23.2" stroke="#1a1a1a" stroke-width="1.6" fill="none" stroke-linecap="round" stroke-linejoin="round"/>
<circle cx="174" cy="21.2" r="11" fill="url(#hg)" stroke="#8088ee" stroke-width="1.6"/>
<rect x="405" y="12" width="18.5" height="18" fill="#fff" stroke="#111" stroke-width="1"/><rect x="405" y="12" width="18.5" height="5.5" fill="#111"/><path d="M409 14.8H412M414 14.3H419" stroke="#20c020" stroke-width="1"/><path d="M404.5 31.3H424" stroke="#888" stroke-width="1"/><path d="M408.5 25.5L411 23L413 25L418 20.5" stroke="#2020e0" stroke-width="1.2" fill="none"/>
<rect x="435.5" y="15.5" width="13" height="13" rx="3" fill="#fff" stroke="#b8b8b8" stroke-width="1"/>
<path d="M438.5 22.3L441.1 25.6L445.8 18.4" stroke="#111" stroke-width="1.9" fill="none" stroke-linecap="round" stroke-linejoin="round"/>
<rect x="505.5" y="15.5" width="13" height="13" rx="3" fill="#fff" stroke="#b8b8b8" stroke-width="1"/>
<defs><linearGradient id="tg" x1="0" y1="0" x2="1" y2="0"><stop offset="0" stop-color="#323232"/><stop offset="0.45" stop-color="#666"/><stop offset="1" stop-color="#282828"/></linearGradient></defs><path d="M586.8 10.4C586.8 6.5 607.2 6.5 607.2 10.4L604 30.5C603.5 34.6 591.7 34.6 591.2 30.5Z" fill="url(#tg)"/><ellipse cx="597" cy="10.4" rx="9.8" ry="2.8" fill="#8a8a8a" stroke="#4a4a4a" stroke-width="0.9"/><path d="M590.5 26C594 21.5 600 21.5 604.3 26L603.7 30.5C600 34 594.5 34 591.4 30.5Z" fill="#444" opacity="0.75"/>
<rect x="623.5" y="7.5" width="19" height="25.5" fill="#cfe0fb" stroke="#7fa4ee" stroke-width="1"/><path d="M642 20V32.5H630Z" fill="#98b8f2"/><path d="M625.3 9.2C629 10.5 632 15 634.2 18.2C637 14.5 641 11.2 645.2 11.6C646.6 13.5 645.5 15.3 643.8 15.8C641 17 638.6 20 637.2 22C639.5 25.2 643 27.6 646 27.8C646.4 30.5 644 32.2 641.5 31.6C638.5 30.6 635.6 27.6 633.6 25C631 28.6 627 32.4 622.8 32.6C620.4 32.2 619.8 30 621.2 28.6C625 26.8 628.6 23.6 630.4 20.8C628.6 17.6 626.4 14.4 624.2 12.6C623.6 10.8 624.2 9.4 625.3 9.2Z" fill="#c81010" stroke="#8c0606" stroke-width="1.7" stroke-linejoin="round"/><path d="M626 11C628.6 13 631 16.4 633 19.4M644.2 13C641.4 13.8 638.4 16.6 636.2 19.6" stroke="#ee6a5e" stroke-width="1.3" fill="none" stroke-linecap="round"/>
<ellipse cx="668" cy="32.3" rx="11.5" ry="1.2" fill="#888" opacity="0.6"/><rect x="656.3" y="16" width="22.6" height="16" rx="1.6" fill="#d4d4d4" stroke="#6a6a6a" stroke-width="1"/><path d="M658 16V15C658 14 659 13.6 660 13.6H662C663 13.6 664 14 664 15V16Z" fill="#666"/><rect x="656.8" y="16.5" width="6.8" height="15" fill="#7c7c7c"/><circle cx="672.5" cy="16.5" r="10" fill="#f2f2b8" opacity="0.55"/><circle cx="672.5" cy="16.5" r="7.5" fill="#fdfde8" opacity="0.75"/><circle cx="671.5" cy="26.3" r="5.4" fill="#e8e8e8" stroke="#8a8a8a" stroke-width="1"/><circle cx="671.5" cy="26.3" r="3.5" fill="#5a5a3a"/><circle cx="671.5" cy="26.8" r="1.8" fill="#c8d0a0"/><rect x="669.8" y="16.5" width="6.2" height="3.3" rx="1" fill="#fff" stroke="#999" stroke-width="0.7"/>
<rect x="694.7" y="11.5" width="20" height="20" fill="#3232b4" stroke="#22228c" stroke-width="1"/><defs><linearGradient id="fl" x1="0" y1="0" x2="1" y2="1"><stop offset="0" stop-color="#b8d4f4"/><stop offset="1" stop-color="#e4f0fc"/></linearGradient></defs><rect x="698" y="11.6" width="13" height="10" fill="url(#fl)"/><rect x="698" y="25.2" width="13" height="6.6" fill="#c4c4cc"/><rect x="699.4" y="26" width="2.4" height="5.8" fill="#3a3ac0"/><rect x="712.2" y="12" width="1.8" height="1.8" fill="#fff"/>
<path d="M728.8 28V15C728.8 13.8 729.6 13.2 730.6 13.2H736L738 15.5H745.2V19.5" fill="#fcf4e4" stroke="#d2a46c" stroke-width="1.2" stroke-linejoin="round"/><path d="M729.3 28.4L734.6 20H749.3L744 28.4Z" fill="#f9ecd4" stroke="#d2a46c" stroke-width="1.2" stroke-linejoin="round"/>
<defs><linearGradient id="gr" x1="0" y1="0" x2="0" y2="1"><stop offset="0" stop-color="#8cdc62"/><stop offset="1" stop-color="#4aaa2c"/></linearGradient></defs><path d="M764.04 17.87A11.2 11.2 0 0 1 782.20 11.62L783.61 9.94L783.65 17.72L777.96 16.68L779.37 14.99A6.8 6.8 0 0 0 768.35 18.79Z" fill="url(#gr)" stroke="#48a02a" stroke-width="0.7" stroke-linejoin="round"/><path d="M785.96 22.53A11.2 11.2 0 0 1 767.80 28.78L766.39 30.46L766.35 22.68L772.04 23.72L770.63 25.41A6.8 6.8 0 0 0 781.65 21.61Z" fill="url(#gr)" stroke="#48a02a" stroke-width="0.7" stroke-linejoin="round"/>
<ellipse cx="809" cy="31.2" rx="13" ry="1.6" fill="#111" opacity="0.85"/><defs><radialGradient id="gb" cx="0.55" cy="0.35" r="0.7"><stop offset="0" stop-color="#6ab040"/><stop offset="1" stop-color="#2a6a14"/></radialGradient></defs><circle cx="811.7" cy="20.4" r="10.5" fill="url(#gb)"/><path d="M817.5 14.5C815 9.5 805.5 10.5 805.8 16.2C806.2 21.8 817 19.5 817 25C817 29.5 810 30.5 806 27.5" stroke="#a8a8a0" stroke-width="5.2" fill="none" stroke-linecap="round"/><path d="M817.5 14.5C815 9.5 805.5 10.5 805.8 16.2C806.2 21.8 817 19.5 817 25C817 29.5 810 30.5 806 27.5" stroke="#f4f4f0" stroke-width="3.8" fill="none" stroke-linecap="round"/><path d="M814.5 33L809.5 28.5L815 26.5Z" fill="#e4e4e0"/>
<defs><linearGradient id="eu" x1="0" y1="0" x2="1" y2="1"><stop offset="0" stop-color="#fafafa"/><stop offset="0.5" stop-color="#c8c8c8"/><stop offset="1" stop-color="#f0f0f0"/></linearGradient></defs><g transform="translate(-1.6,2.2)"><path d="M854.5 14.5C851 8.5 841.5 9.5 839.5 18C837.5 27.5 846 32.5 855 26.5" stroke="#4a4a4a" stroke-width="5.4" fill="none"/><path d="M836.5 16.3H848M836.5 21H847.5" stroke="#4a4a4a" stroke-width="3.2"/></g><path d="M854.5 14.5C851 8.5 841.5 9.5 839.5 18C837.5 27.5 846 32.5 855 26.5" stroke="#8a8a8a" stroke-width="5.6" fill="none"/><path d="M854.5 14.5C851 8.5 841.5 9.5 839.5 18C837.5 27.5 846 32.5 855 26.5" stroke="url(#eu)" stroke-width="4.2" fill="none"/><path d="M836.5 16.3H849M836.5 21H848.5" stroke="#777" stroke-width="3.2"/><path d="M837 16.1H848.5M837 20.8H848" stroke="#ececec" stroke-width="1.8"/>
<defs><linearGradient id="gg" x1="0" y1="0" x2="1" y2="1"><stop offset="0" stop-color="#c0c0c0"/><stop offset="1" stop-color="#7c7c7c"/></linearGradient></defs><polygon points="889.02,17.63 892.82,18.17 892.82,22.63 889.02,23.17 888.05,25.53 890.35,28.60 887.20,31.75 884.13,29.45 881.77,30.42 881.23,34.22 876.77,34.22 876.23,30.42 873.87,29.45 870.80,31.75 867.65,28.60 869.95,25.53 868.98,23.17 865.18,22.63 865.18,18.17 868.98,17.63 869.95,15.27 867.65,12.20 870.80,9.05 873.87,11.35 876.23,10.38 876.77,6.58 881.23,6.58 881.77,10.38 884.13,11.35 887.20,9.05 890.35,12.20 888.05,15.27" fill="url(#gg)" stroke="#606060" stroke-width="1.6" stroke-linejoin="round"/><circle cx="879" cy="20.4" r="10.6" fill="url(#gg)"/><circle cx="879" cy="20.4" r="6.4" fill="#8e8e8e"/><circle cx="879" cy="20.4" r="4.2" fill="#c8c8c8" stroke="#6a6a6a" stroke-width="1.6"/><circle cx="879" cy="20.4" r="1.9" fill="#fff"/>
<g transform="rotate(-10 914 21)"><rect x="904" y="10.8" width="19" height="19.5" rx="1.2" fill="#fcfcfc" stroke="#aaa" stroke-width="1"/><path d="M904 12C904 11.2 904.6 10.8 905.2 10.8H921.8C922.5 10.8 923 11.2 923 12V14.8H904Z" fill="#68b81c"/><path d="M905 29.8H923" stroke="#d0d0d0" stroke-width="1.2"/></g>
<path d="M962.62 417.29A6.6 6.6 0 0 1 972.30 413.28L973.10 411.90L973.93 417.68L970.00 417.27L970.80 415.88A3.6 3.6 0 0 0 965.52 418.07Z" fill="#2a66d8"/><path d="M975.38 420.71A6.6 6.6 0 0 1 965.70 424.72L964.90 426.10L964.07 420.32L968.00 420.73L967.20 422.12A3.6 3.6 0 0 0 972.48 419.93Z" fill="#2a66d8"/>
</svg>
<div style="position:absolute;left:0;top:0;width:1000px;height:800px;transform:translateZ(0);will-change:transform;-webkit-text-stroke:0.3px">
<div style="position:absolute;left:27.3px;top:12.05px;font-size:13.3px;line-height:16.3px;color:#000;white-space:nowrap;">CandleSticks</div>
<div style="position:absolute;left:203.3px;top:12.05px;font-size:13.3px;line-height:16.3px;color:#000;white-space:nowrap;">3 mesos</div>
<div style="position:absolute;left:311.8px;top:12.05px;font-size:13.3px;line-height:16.3px;color:#000;white-space:nowrap;">dia</div>
<div style="position:absolute;left:455.5px;top:14px;font-size:13px;line-height:16px;color:#000;white-space:nowrap;">Guies</div>
<div style="position:absolute;left:525.5px;top:14px;font-size:13px;line-height:16px;color:#000;white-space:nowrap;">Cursor</div>
<div style="position:absolute;left:80px;top:51.4px;font-size:13.2px;line-height:16.2px;color:#000;white-space:nowrap;">Last: 0.35499 - 06/02/26</div>
<div style="position:absolute;left:25.6px;top:77.9px;font-size:12.6px;line-height:15.6px;color:#000;white-space:nowrap;">0,44</div>
<div style="position:absolute;left:899.5px;top:77.9px;font-size:12.6px;line-height:15.6px;color:#000;white-space:nowrap;">0,44</div>
<div style="position:absolute;left:25.6px;top:115.9px;font-size:12.6px;line-height:15.6px;color:#000;white-space:nowrap;">0,43</div>
<div style="position:absolute;left:899.5px;top:115.9px;font-size:12.6px;line-height:15.6px;color:#000;white-space:nowrap;">0,43</div>
<div style="position:absolute;left:25.6px;top:153.9px;font-size:12.6px;line-height:15.6px;color:#000;white-space:nowrap;">0,41</div>
<div style="position:absolute;left:899.5px;top:153.9px;font-size:12.6px;line-height:15.6px;color:#000;white-space:nowrap;">0,41</div>
<div style="position:absolute;left:25.6px;top:191.9px;font-size:12.6px;line-height:15.6px;color:#000;white-space:nowrap;">0,40</div>
<div style="position:absolute;left:899.5px;top:191.9px;font-size:12.6px;line-height:15.6px;color:#000;white-space:nowrap;">0,40</div>
<div style="position:absolute;left:25.6px;top:229.9px;font-size:12.6px;line-height:15.6px;color:#000;white-space:nowrap;">0,39</div>
<div style="position:absolute;left:899.5px;top:229.9px;font-size:12.6px;line-height:15.6px;color:#000;white-space:nowrap;">0,39</div>
<div style="position:absolute;left:25.6px;top:267.9px;font-size:12.6px;line-height:15.6px;color:#000;white-space:nowrap;">0,38</div>
<div style="position:absolute;left:899.5px;top:267.9px;font-size:12.6px;line-height:15.6px;color:#000;white-space:nowrap;">0,38</div>
<div style="position:absolute;left:25.6px;top:305.9px;font-size:12.6px;line-height:15.6px;color:#000;white-space:nowrap;">0,37</div>
<div style="position:absolute;left:899.5px;top:305.9px;font-size:12.6px;line-height:15.6px;color:#000;white-space:nowrap;">0,37</div>
<div style="position:absolute;left:25.6px;top:343.9px;font-size:12.6px;line-height:15.6px;color:#000;white-space:nowrap;">0,35</div>
<div style="position:absolute;left:899.5px;top:343.9px;font-size:12.6px;line-height:15.6px;color:#000;white-space:nowrap;clip-path:inset(8px 0 0 0);">0,35</div>
<div style="position:absolute;left:25.6px;top:381.9px;font-size:12.6px;line-height:15.6px;color:#000;white-space:nowrap;">0,34</div>
<div style="position:absolute;left:899.5px;top:381.9px;font-size:12.6px;line-height:15.6px;color:#000;white-space:nowrap;">0,34</div>
<div style="position:absolute;left:25.6px;top:419.9px;font-size:12.6px;line-height:15.6px;color:#000;white-space:nowrap;">0,33</div>
<div style="position:absolute;left:899.5px;top:419.9px;font-size:12.6px;line-height:15.6px;color:#000;white-space:nowrap;">0,33</div>
<div style="position:absolute;left:899.5px;top:39.5px;font-size:12.6px;line-height:15.6px;color:#000;white-space:nowrap;clip-path:inset(7.7px 0 0 0);">0,45</div>
<div style="position:absolute;left:900.7px;top:335.5px;font-size:12.6px;line-height:15.6px;color:#000;white-space:nowrap;">0,35</div>
<div style="position:absolute;left:-3.5px;width:200px;text-align:center;top:437.6px;font-size:12.4px;line-height:15.4px;color:#000;white-space:nowrap;">11</div>
<div style="position:absolute;left:35.5px;width:200px;text-align:center;top:437.6px;font-size:12.4px;line-height:15.4px;color:#000;white-space:nowrap;">14</div>
<div style="position:absolute;left:74.5px;width:200px;text-align:center;top:437.6px;font-size:12.4px;line-height:15.4px;color:#000;white-space:nowrap;">19</div>
<div style="position:absolute;left:113.5px;width:200px;text-align:center;top:437.6px;font-size:12.4px;line-height:15.4px;color:#000;white-space:nowrap;">24</div>
<div style="position:absolute;left:153.5px;width:200px;text-align:center;top:437.6px;font-size:12.4px;line-height:15.4px;color:#000;white-space:nowrap;">27</div>
<div style="position:absolute;left:218.5px;width:200px;text-align:center;top:437.6px;font-size:12.4px;line-height:15.4px;color:#000;white-space:nowrap;">04</div>
<div style="position:absolute;left:257.5px;width:200px;text-align:center;top:437.6px;font-size:12.4px;line-height:15.4px;color:#000;white-space:nowrap;">09</div>
<div style="position:absolute;left:296.5px;width:200px;text-align:center;top:437.6px;font-size:12.4px;line-height:15.4px;color:#000;white-space:nowrap;">12</div>
<div style="position:absolute;left:336.5px;width:200px;text-align:center;top:437.6px;font-size:12.4px;line-height:15.4px;color:#000;white-space:nowrap;">17</div>
<div style="position:absolute;left:375.5px;width:200px;text-align:center;top:437.6px;font-size:12.4px;line-height:15.4px;color:#000;white-space:nowrap;">22</div>
<div style="position:absolute;left:414.5px;width:200px;text-align:center;top:437.6px;font-size:12.4px;line-height:15.4px;color:#000;white-space:nowrap;">29</div>
<div style="position:absolute;left:453.5px;width:200px;text-align:center;top:437.6px;font-size:12.4px;line-height:15.4px;color:#000;white-space:nowrap;">Gen26</div>
<div style="position:absolute;left:493.5px;width:200px;text-align:center;top:437.6px;font-size:12.4px;line-height:15.4px;color:#000;white-space:nowrap;">07</div>
<div style="position:absolute;left:532.5px;width:200px;text-align:center;top:437.6px;font-size:12.4px;line-height:15.4px;color:#000;white-space:nowrap;">12</div>
<div style="position:absolute;left:571.5px;width:200px;text-align:center;top:437.6px;font-size:12.4px;line-height:15.4px;color:#000;white-space:nowrap;">15</div>
<div style="position:absolute;left:610.5px;width:200px;text-align:center;top:437.6px;font-size:12.4px;line-height:15.4px;color:#000;white-space:nowrap;">20</div>
<div style="position:absolute;left:650.5px;width:200px;text-align:center;top:437.6px;font-size:12.4px;line-height:15.4px;color:#000;white-space:nowrap;">23</div>
<div style="position:absolute;left:689.5px;width:200px;text-align:center;top:437.6px;font-size:12.4px;line-height:15.4px;color:#000;white-space:nowrap;">28</div>
<div style="position:absolute;left:728.5px;width:200px;text-align:center;top:437.6px;font-size:12.4px;line-height:15.4px;color:#000;white-space:nowrap;">Feb26</div>
<div style="position:absolute;left:767.5px;width:200px;text-align:center;top:437.6px;font-size:12.4px;line-height:15.4px;color:#000;white-space:nowrap;">05</div>
<div style="position:absolute;left:-65.6px;width:200px;text-align:center;top:437.75px;font-size:12.5px;line-height:15.5px;color:#000;white-space:nowrap;letter-spacing:-0.6px;">&lt;&lt;</div>
<div style="position:absolute;left:-42.2px;width:200px;text-align:center;top:437.75px;font-size:12.5px;line-height:15.5px;color:#000;white-space:nowrap;">&lt;</div>
<div style="position:absolute;left:802.8px;width:200px;text-align:center;top:437.75px;font-size:12.5px;line-height:15.5px;color:#000;white-space:nowrap;">&gt;</div>
<div style="position:absolute;left:825.8px;width:200px;text-align:center;top:437.75px;font-size:12.5px;line-height:15.5px;color:#000;white-space:nowrap;letter-spacing:-0.6px;">&gt;&gt;</div>
<div style="position:absolute;left:80px;top:470.8px;font-size:12.4px;line-height:15.4px;color:#c4c4c4;white-space:nowrap;">Histgrama MACD</div>
<div style="position:absolute;right:932.7px;top:471.4px;font-size:12.6px;line-height:15.6px;color:#000;white-space:nowrap;">0,01</div>
<div style="position:absolute;right:932.7px;top:507.7px;font-size:12.6px;line-height:15.6px;color:#000;white-space:nowrap;">0</div>
<div style="position:absolute;right:932.7px;top:553.8px;font-size:12.6px;line-height:15.6px;color:#000;white-space:nowrap;">-0,01</div>
<div style="position:absolute;left:897.8px;top:469.7px;width:46px;height:40px;overflow:hidden;font-size:12px;line-height:10.8px;white-space:nowrap">Macd<br>Forest<br>26,12,26</div>
<div style="position:absolute;left:80px;top:573.8px;font-size:12.4px;line-height:15.4px;color:#c4c4c4;white-space:nowrap;">Indice Calidad Vela</div>
<div style="position:absolute;right:933.5px;top:574.2px;font-size:12.6px;line-height:15.6px;color:#000;white-space:nowrap;">10</div>
<div style="position:absolute;right:932.7px;top:608.5px;font-size:12.6px;line-height:15.6px;color:#000;white-space:nowrap;">0</div>
<div style="position:absolute;right:933.5px;top:656.8px;font-size:12.6px;line-height:15.6px;color:#000;white-space:nowrap;">-10</div>
<div style="position:absolute;left:897.8px;top:572.2px;width:46px;height:40px;overflow:hidden;font-size:12px;line-height:10.8px;white-space:nowrap">ICV<br>5, 3, 1</div>
<div style="position:absolute;left:898.3px;top:604.2px;font-size:12px;line-height:15px;color:#1a1aff;white-space:nowrap;">1</div>
<div style="position:absolute;left:80px;top:676.8px;font-size:12.4px;line-height:15.4px;color:#c4c4c4;white-space:nowrap;">Full Estocastico</div>
<div style="position:absolute;right:933px;top:677.2px;font-size:12.6px;line-height:15.6px;color:#000;white-space:nowrap;">100</div>
<div style="position:absolute;right:933px;top:701.7px;font-size:12.6px;line-height:15.6px;color:#000;white-space:nowrap;">60</div>
<div style="position:absolute;right:933px;top:720.7px;font-size:12.6px;line-height:15.6px;color:#000;white-space:nowrap;">40</div>
<div style="position:absolute;right:932.7px;top:760px;font-size:12.6px;line-height:15.6px;color:#000;white-space:nowrap;">0</div>
<div style="position:absolute;left:897.8px;top:675.4px;width:46px;height:40px;overflow:hidden;font-size:12px;line-height:10.8px;white-space:nowrap">EST. %<br>FULL<br>(28,3,6)</div>
<div style="position:absolute;left:899.5px;top:729.3px;font-size:12px;line-height:15px;color:#1a1aff;white-space:nowrap;">31,36</div>
<div style="position:absolute;left:20.5px;top:778.1px;font-size:13.2px;line-height:16.2px;color:#000;white-space:nowrap;">OHL (OHLA.MC)</div>
<div style="position:absolute;left:306px;top:778.1px;font-size:13.2px;line-height:16.2px;color:#1a10ff;white-space:nowrap;letter-spacing:0.15px;-webkit-text-stroke:0.45px #1a10ff;">/Users/mserra/Library/CloudStorage/Dropbox/WorkDB/DatosBolsa/Configs/Config.DEFAULT.xml</div>
<div style="position:absolute;left:923.8px;top:778.8px;font-size:11.8px;line-height:14.8px;color:#fff;white-space:nowrap;">OFF</div>
<div style="position:absolute;left:74.19999999999999px;width:200px;text-align:center;top:10.3px;font-size:20px;line-height:23px;color:#eeeaff;white-space:nowrap;font-weight:bold;-webkit-text-stroke:0;">?</div>
<div style="position:absolute;left:813.3px;width:200px;text-align:center;top:14.5px;font-size:12px;line-height:15px;color:#111;white-space:nowrap;transform:rotate(-10deg);letter-spacing:-0.3px;">17</div>
</div>
</body></html>
